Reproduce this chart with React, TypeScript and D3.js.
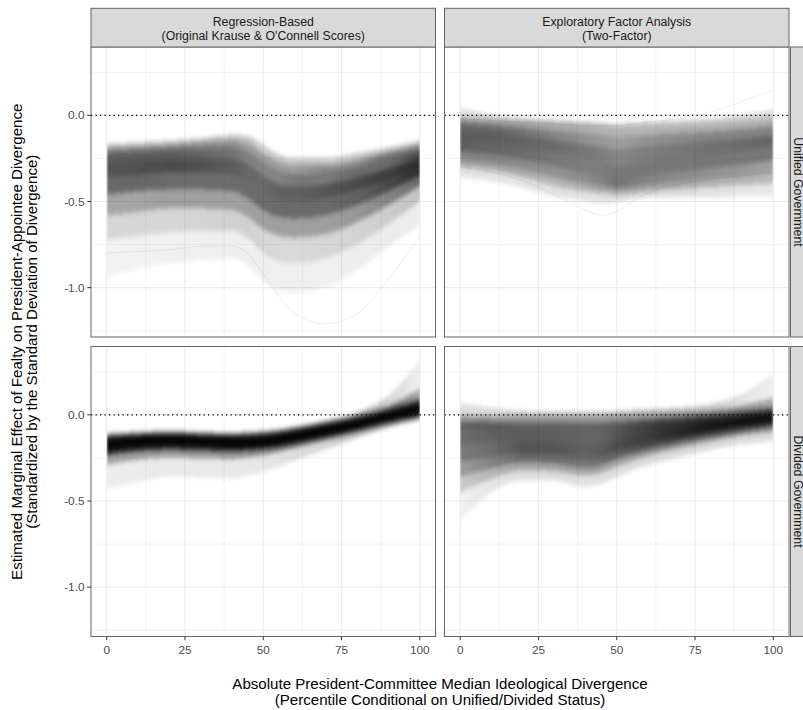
import React from "react";
import * as d3 from "d3";

// ---------------- data ----------------
const X_POINTS = [0, 10, 20, 30, 40, 45, 50, 55, 60, 70, 80, 90, 100];
const X_TICKS = [0, 25, 50, 75, 100];
const Y_TICKS = [-1.0, -0.5, 0.0];
const Y_TICK_LABELS = ["-1.0", "-0.5", "0.0"];
const COLUMN_TITLE_1 = ["Regression-Based", "Exploratory Factor Analysis"];
const COLUMN_TITLE_2 = ["(Original Krause & O'Connell Scores)", "(Two-Factor)"];
const ROW_TITLES = ["Unified Government", "Divided Government"];
const X_TITLE = [
  "Absolute President-Committee Median Ideological Divergence",
  "(Percentile Conditional on Unified/Divided Status)",
];
const Y_TITLE = [
  "Estimated Marginal Effect of Fealty on President-Appointee Divergence",
  "(Standardized by the Standard Deviation of Divergence)",
];
// share of the simulated curves lying between successive quantile curves
// (lo-q03, q03-q10, q10-q25, q25-q50, q50-q75, q75-q90, q90-q97, q97-hi)
const BAND_SHARES = [0.03, 0.07, 0.15, 0.25, 0.25, 0.15, 0.07, 0.03];

// Regression-Based, Unified Government
const RU_lo = [-0.94, -0.89, -0.86, -0.84, -0.83, -0.87, -0.96, -1.02, -1.03, -1.0, -0.9, -0.76, -0.64];
const RU_q03 = [-0.72, -0.7, -0.68, -0.67, -0.67, -0.71, -0.8, -0.85, -0.86, -0.83, -0.75, -0.63, -0.5];
const RU_q10 = [-0.58, -0.56, -0.54, -0.54, -0.55, -0.59, -0.66, -0.7, -0.71, -0.69, -0.62, -0.52, -0.41];
const RU_q25 = [-0.46, -0.44, -0.43, -0.43, -0.44, -0.48, -0.55, -0.59, -0.6, -0.58, -0.52, -0.44, -0.35];
const RU_q50 = [-0.36, -0.345, -0.33, -0.33, -0.34, -0.38, -0.45, -0.49, -0.5, -0.48, -0.43, -0.37, -0.3];
const RU_q75 = [-0.28, -0.27, -0.26, -0.255, -0.255, -0.285, -0.35, -0.4, -0.41, -0.4, -0.36, -0.31, -0.25];
const RU_q90 = [-0.23, -0.22, -0.21, -0.2, -0.19, -0.21, -0.27, -0.32, -0.34, -0.33, -0.3, -0.25, -0.21];
const RU_q97 = [-0.2, -0.19, -0.18, -0.165, -0.15, -0.16, -0.22, -0.27, -0.29, -0.29, -0.26, -0.22, -0.18];
const RU_hi = [-0.17, -0.16, -0.15, -0.135, -0.115, -0.12, -0.17, -0.23, -0.25, -0.25, -0.22, -0.19, -0.15];
const RU_stray = [-0.8, -0.79, -0.78, -0.76, -0.76, -0.8, -0.92, -1.05, -1.15, -1.21, -1.15, -0.95, -0.7];

// Exploratory Factor Analysis, Unified Government
const EU_lo = [-0.36, -0.38, -0.42, -0.47, -0.5, -0.51, -0.5, -0.485, -0.475, -0.475, -0.475, -0.47, -0.47];
const EU_q03 = [-0.3, -0.32, -0.36, -0.41, -0.44, -0.45, -0.455, -0.445, -0.435, -0.425, -0.415, -0.405, -0.395];
const EU_q10 = [-0.26, -0.28, -0.315, -0.36, -0.395, -0.41, -0.42, -0.41, -0.4, -0.385, -0.37, -0.355, -0.34];
const EU_q25 = [-0.205, -0.225, -0.255, -0.295, -0.335, -0.355, -0.375, -0.36, -0.345, -0.325, -0.305, -0.285, -0.26];
const EU_q50 = [-0.145, -0.16, -0.185, -0.215, -0.25, -0.27, -0.295, -0.28, -0.265, -0.245, -0.225, -0.205, -0.18];
const EU_q75 = [-0.085, -0.1, -0.12, -0.145, -0.17, -0.185, -0.2, -0.19, -0.18, -0.165, -0.15, -0.135, -0.115];
const EU_q90 = [-0.045, -0.06, -0.075, -0.09, -0.105, -0.115, -0.125, -0.12, -0.115, -0.105, -0.095, -0.08, -0.06];
const EU_q97 = [-0.015, -0.03, -0.04, -0.05, -0.06, -0.068, -0.075, -0.07, -0.066, -0.06, -0.05, -0.035, -0.015];
const EU_hi = [0.04, 0.0, -0.02, -0.03, -0.04, -0.045, -0.05, -0.045, -0.04, -0.03, -0.02, 0.0, 0.03];
const EU_stray1 = [-0.3, -0.33, -0.38, -0.46, -0.55, -0.58, -0.56, -0.5, -0.45, -0.4, -0.37, -0.35, -0.33];
const EU_stray2 = [-0.02, -0.03, -0.04, -0.05, -0.06, -0.06, -0.06, -0.05, -0.04, -0.02, 0.02, 0.08, 0.145];

// Regression-Based, Divided Government
const RD_lo = [-0.43, -0.39, -0.36, -0.365, -0.37, -0.355, -0.33, -0.3, -0.265, -0.2, -0.13, -0.07, -0.025];
const RD_q03 = [-0.29, -0.26, -0.245, -0.25, -0.255, -0.245, -0.232, -0.213, -0.19, -0.145, -0.098, -0.05, -0.01];
const RD_q10 = [-0.235, -0.21, -0.2, -0.205, -0.21, -0.205, -0.196, -0.182, -0.163, -0.123, -0.081, -0.034, 0.005];
const RD_q25 = [-0.205, -0.184, -0.175, -0.18, -0.186, -0.183, -0.176, -0.164, -0.147, -0.11, -0.069, -0.022, 0.02];
const RD_q50 = [-0.18, -0.162, -0.155, -0.16, -0.165, -0.163, -0.157, -0.146, -0.13, -0.095, -0.055, -0.008, 0.038];
const RD_q75 = [-0.157, -0.142, -0.137, -0.142, -0.147, -0.145, -0.139, -0.128, -0.112, -0.078, -0.04, 0.008, 0.06];
const RD_q90 = [-0.14, -0.127, -0.122, -0.127, -0.132, -0.13, -0.124, -0.113, -0.097, -0.063, -0.025, 0.025, 0.09];
const RD_q97 = [-0.125, -0.115, -0.11, -0.115, -0.12, -0.115, -0.11, -0.1, -0.085, -0.05, -0.01, 0.05, 0.15];
const RD_hi = [-0.11, -0.1, -0.095, -0.1, -0.105, -0.1, -0.095, -0.085, -0.07, -0.035, 0.01, 0.11, 0.32];

// Exploratory Factor Analysis, Divided Government
const ED_lo = [-0.62, -0.45, -0.38, -0.38, -0.42, -0.4, -0.36, -0.32, -0.29, -0.245, -0.2, -0.17, -0.15];
const ED_q03 = [-0.45, -0.37, -0.32, -0.325, -0.35, -0.335, -0.3, -0.265, -0.235, -0.19, -0.15, -0.115, -0.095];
const ED_q10 = [-0.36, -0.31, -0.275, -0.28, -0.305, -0.29, -0.255, -0.225, -0.2, -0.157, -0.12, -0.088, -0.062];
const ED_q25 = [-0.27, -0.245, -0.225, -0.23, -0.25, -0.24, -0.21, -0.185, -0.163, -0.125, -0.092, -0.062, -0.038];
const ED_q50 = [-0.17, -0.16, -0.16, -0.165, -0.175, -0.17, -0.15, -0.13, -0.113, -0.088, -0.062, -0.037, -0.015];
const ED_q75 = [-0.085, -0.085, -0.09, -0.092, -0.097, -0.093, -0.083, -0.073, -0.063, -0.047, -0.03, -0.01, 0.012];
const ED_q90 = [-0.04, -0.045, -0.045, -0.048, -0.05, -0.048, -0.042, -0.036, -0.03, -0.018, -0.003, 0.017, 0.045];
const ED_q97 = [0.0, -0.01, -0.01, -0.012, -0.012, -0.01, -0.005, 0.0, 0.005, 0.012, 0.025, 0.05, 0.1];
const ED_hi = [0.07, 0.04, 0.02, 0.015, 0.015, 0.015, 0.02, 0.025, 0.03, 0.04, 0.06, 0.12, 0.24];

// ---------------- panel setup ----------------
const PANELS = [
  { key: "ru", row: 0, col: 0, density: 60,
    curves: [RU_lo, RU_q03, RU_q10, RU_q25, RU_q50, RU_q75, RU_q90, RU_q97, RU_hi], strays: [RU_stray] },
  { key: "eu", row: 0, col: 1, density: 42,
    curves: [EU_lo, EU_q03, EU_q10, EU_q25, EU_q50, EU_q75, EU_q90, EU_q97, EU_hi], strays: [EU_stray1, EU_stray2] },
  { key: "rd", row: 1, col: 0, density: 60,
    curves: [RD_lo, RD_q03, RD_q10, RD_q25, RD_q50, RD_q75, RD_q90, RD_q97, RD_hi], strays: [] },
  { key: "ed", row: 1, col: 1, density: 50,
    curves: [ED_lo, ED_q03, ED_q10, ED_q25, ED_q50, ED_q75, ED_q90, ED_q97, ED_hi], strays: [] },
];

const FONT = "'Liberation Sans', Arial, Helvetica, sans-serif";
const W = 803;
const H = 710;
const COL_X: [number, number][] = [[91, 435.5], [444.5, 789]];
const ROW_Y: [number, number][] = [[47, 337], [346.5, 636.5]];
const STRIP_TOP = 8.3;
const RIGHT_STRIP = [790.5, 811];
const BORDER = "#666";
const GRID = "#EBEBEB";

export default function App() {
  const allVals = PANELS.flatMap((p) => [...p.curves.flat(), ...p.strays.flat()]);
  const [dMin, dMax] = d3.extent(allVals) as [number, number];
  const yPad = (dMax - dMin) * 0.05;
  const yDomain: [number, number] = [dMin - yPad, dMax + yPad];
  const [xMin, xMax] = d3.extent(X_POINTS) as [number, number];
  const xPad = (xMax - xMin) * 0.05;
  const xDomain: [number, number] = [xMin - xPad, xMax + xPad];

  const yStep = Y_TICKS[1] - Y_TICKS[0];
  const yMinor = d3.range(Y_TICKS[0] - yStep / 2, Y_TICKS[Y_TICKS.length - 1] + yStep, yStep)
    .filter((v) => v > yDomain[0] && v < yDomain[1]);
  const xStep = X_TICKS[1] - X_TICKS[0];
  const xMinor = d3.range(X_TICKS[0] - xStep / 2, X_TICKS[X_TICKS.length - 1] + xStep, xStep)
    .filter((v) => v > xDomain[0] && v < xDomain[1]);

  const xScales = COL_X.map((r) => d3.scaleLinear().domain(xDomain).range(r));
  const yScales = ROW_Y.map((r) => d3.scaleLinear().domain(yDomain).range([r[1], r[0]]));

  const panels = PANELS.map((p) => {
    const xs = xScales[p.col];
    const ys = yScales[p.row];
    const [px0, px1] = COL_X[p.col];
    const [py0, py1] = ROW_Y[p.row];
    const gx0 = xs(xMin);
    const gx1 = xs(xMax);
    const bands = BAND_SHARES.map((share, b) => {
      const lower = p.curves[b];
      const upper = p.curves[b + 1];
      const area = d3
        .area<number>()
        .x((d) => xs(d))
        .y0((_, i) => ys(lower[i]))
        .y1((_, i) => ys(upper[i]))
        .curve(d3.curveMonotoneX);
      const stops = X_POINTS.map((xv, i) => {
        const wpx = Math.max(0.6, Math.abs(ys(lower[i]) - ys(upper[i])));
        const op = Math.min(0.985, 1 - Math.exp((-p.density * share) / wpx));
        return { offset: (xs(xv) - gx0) / (gx1 - gx0), op };
      });
      return { id: `grad-${p.key}-${b}`, d: area(X_POINTS) || "", stops };
    });
    const line = (arr: number[]) =>
      d3.line<number>().x((d) => xs(d)).y((_, i) => ys(arr[i])).curve(d3.curveMonotoneX)(X_POINTS) || "";
    return { p, xs, ys, px0, px1, py0, py1, gx0, gx1, bands, strays: p.strays.map(line) };
  });

  return (
    <svg width={W} height={H} style={{ position: "absolute", left: 0, top: 0, background: "#fff" }}
      fontFamily={FONT}>
      <defs>
        <filter id="vblur" x="-2%" y="-30%" width="104%" height="160%">
          <feGaussianBlur stdDeviation="0.9 2.4" />
        </filter>
        {panels.map((pp) =>
          pp.bands.map((b) => (
            <linearGradient key={b.id} id={b.id} gradientUnits="userSpaceOnUse"
              x1={pp.gx0} x2={pp.gx1} y1={0} y2={0}>
              {b.stops.map((s, i) => (
                <stop key={i} offset={s.offset} stopColor="#000" stopOpacity={s.op} />
              ))}
            </linearGradient>
          ))
        )}
        {panels.map((pp) => (
          <clipPath key={pp.p.key} id={`clip-${pp.p.key}`}>
            <rect x={pp.px0} y={pp.py0} width={pp.px1 - pp.px0} height={pp.py1 - pp.py0} />
          </clipPath>
        ))}
        {panels.map((pp) => (
          <clipPath key={"d" + pp.p.key} id={`dclip-${pp.p.key}`}>
            <rect x={pp.gx0} y={pp.py0} width={pp.gx1 - pp.gx0} height={pp.py1 - pp.py0} />
          </clipPath>
        ))}
      </defs>

      {panels.map((pp) => (
        <g key={pp.p.key}>
          <rect x={pp.px0} y={pp.py0} width={pp.px1 - pp.px0} height={pp.py1 - pp.py0} fill="#fff" />
          {yMinor.map((v) => (
            <line key={"ym" + v} x1={pp.px0} x2={pp.px1} y1={pp.ys(v)} y2={pp.ys(v)} stroke={GRID} strokeWidth={0.6} />
          ))}
          {xMinor.map((v) => (
            <line key={"xm" + v} y1={pp.py0} y2={pp.py1} x1={pp.xs(v)} x2={pp.xs(v)} stroke={GRID} strokeWidth={0.6} />
          ))}
          {Y_TICKS.map((v) => (
            <line key={"yM" + v} x1={pp.px0} x2={pp.px1} y1={pp.ys(v)} y2={pp.ys(v)} stroke={GRID} strokeWidth={1.1} />
          ))}
          {X_TICKS.map((v) => (
            <line key={"xM" + v} y1={pp.py0} y2={pp.py1} x1={pp.xs(v)} x2={pp.xs(v)} stroke={GRID} strokeWidth={1.1} />
          ))}
          <line x1={pp.px0} x2={pp.px1} y1={pp.ys(0)} y2={pp.ys(0)} stroke="#000" strokeWidth={1.3}
            strokeDasharray="1.3 3.2" />
          <g clipPath={`url(#dclip-${pp.p.key})`}>
            <g filter="url(#vblur)">
              {pp.bands.map((b) => (
                <path key={b.id} d={b.d} fill={`url(#${b.id})`} shapeRendering="crispEdges" />
              ))}
            </g>
          </g>
          <g clipPath={`url(#clip-${pp.p.key})`}>
            {pp.strays.map((d, i) => (
              <path key={i} d={d} fill="none" stroke="#000" strokeOpacity={0.07} strokeWidth={0.9} />
            ))}
          </g>
          <rect x={pp.px0} y={pp.py0} width={pp.px1 - pp.px0} height={pp.py1 - pp.py0} fill="none"
            stroke={BORDER} strokeWidth={1} />
        </g>
      ))}

      {/* top strips */}
      {COL_X.map(([x0, x1], c) => (
        <g key={"ts" + c}>
          <rect x={x0} y={STRIP_TOP} width={x1 - x0} height={ROW_Y[0][0] - STRIP_TOP} fill="#D9D9D9"
            stroke={BORDER} strokeWidth={1} />
          <text x={(x0 + x1) / 2} y={25.5} textAnchor="middle" fontSize={12.3} fill="#1A1A1A">
            {COLUMN_TITLE_1[c]}
          </text>
          <text x={(x0 + x1) / 2} y={40} textAnchor="middle" fontSize={12.3} fill="#1A1A1A">
            {COLUMN_TITLE_2[c]}
          </text>
        </g>
      ))}

      {/* right strips */}
      {ROW_Y.map(([y0, y1], r) => (
        <g key={"rs" + r}>
          <rect x={RIGHT_STRIP[0]} y={y0} width={RIGHT_STRIP[1] - RIGHT_STRIP[0]} height={y1 - y0} fill="#D9D9D9"
            stroke={BORDER} strokeWidth={1} />
          <text transform={`translate(${RIGHT_STRIP[0] + 3.5},${(y0 + y1) / 2}) rotate(90)`}
            textAnchor="middle" fontSize={12.3} fill="#1A1A1A">
            {ROW_TITLES[r]}
          </text>
        </g>
      ))}

      {/* y axes (left column) */}
      {ROW_Y.map((_, r) => (
        <g key={"ya" + r}>
          {Y_TICKS.map((v, i) => (
            <g key={v}>
              <line x1={COL_X[0][0] - 3.7} x2={COL_X[0][0]} y1={yScales[r](v)} y2={yScales[r](v)} stroke="#333"
                strokeWidth={1} />
              <text x={COL_X[0][0] - 6.5} y={yScales[r](v)} dy="0.35em" textAnchor="end" fontSize={11.8}
                fill="#4D4D4D">
                {Y_TICK_LABELS[i]}
              </text>
            </g>
          ))}
        </g>
      ))}

      {/* x axes (bottom row) */}
      {COL_X.map((_, c) => (
        <g key={"xa" + c}>
          {X_TICKS.map((v) => (
            <g key={v}>
              <line x1={xScales[c](v)} x2={xScales[c](v)} y1={ROW_Y[1][1]} y2={ROW_Y[1][1] + 3.7} stroke="#333"
                strokeWidth={1} />
              <text x={xScales[c](v)} y={654.3} textAnchor="middle" fontSize={11.8} fill="#4D4D4D">
                {String(v)}
              </text>
            </g>
          ))}
        </g>
      ))}

      {/* axis titles */}
      <text x={(COL_X[0][0] + COL_X[1][1]) / 2} y={689.3} textAnchor="middle" fontSize={15.1} fill="#000">
        {X_TITLE[0]}
      </text>
      <text x={(COL_X[0][0] + COL_X[1][1]) / 2} y={705.3} textAnchor="middle" fontSize={15.1} fill="#000">
        {X_TITLE[1]}
      </text>
      <text transform={`translate(21.5,${(ROW_Y[0][0] + ROW_Y[1][1]) / 2}) rotate(-90)`} textAnchor="middle"
        fontSize={15.1} fill="#000">
        {Y_TITLE[0]}
      </text>
      <text transform={`translate(37.3,${(ROW_Y[0][0] + ROW_Y[1][1]) / 2}) rotate(-90)`} textAnchor="middle"
        fontSize={15.1} fill="#000">
        {Y_TITLE[1]}
      </text>
    </svg>
  );
}
